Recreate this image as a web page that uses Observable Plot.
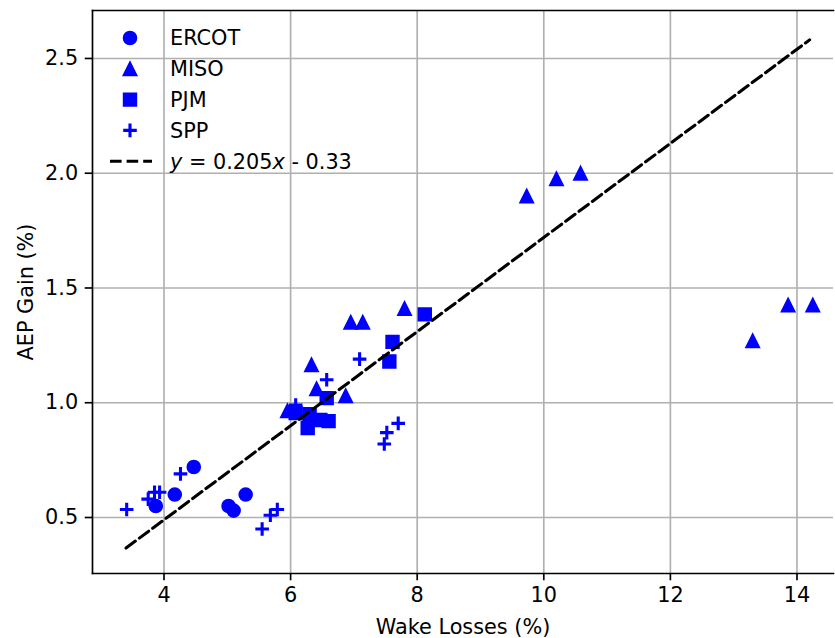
<!DOCTYPE html>
<html><head><meta charset="utf-8">
<script src="https://cdn.jsdelivr.net/npm/d3@7"></script>
<script src="https://cdn.jsdelivr.net/npm/@observablehq/plot@0.6"></script>
<style>
body{margin:0;background:#fff;}
#wrap{position:relative;width:835px;height:638px;}
#legend{position:absolute;left:0;top:0;pointer-events:none;}
</style></head><body><div id="wrap"></div>
<script>
// ---- data ----
const ercotWake = [3.87, 4.17, 4.47, 5.02, 5.10, 5.29];
const ercotGain = [0.55, 0.60, 0.72, 0.55, 0.53, 0.60];
const misoWake = [5.95, 6.33, 6.41, 6.87, 6.95, 7.14, 7.80, 9.73, 10.20, 10.58, 13.30, 13.86, 14.25];
const misoGain = [0.965, 1.165, 1.06, 1.03, 1.35, 1.35, 1.41, 1.90, 1.975, 2.00, 1.27, 1.425, 1.425];
const pjmWake = [6.08, 6.27, 6.30, 6.47, 6.60, 6.57, 7.56, 7.61, 8.12];
const pjmGain = [0.955, 0.89, 0.95, 0.925, 0.92, 1.02, 1.18, 1.265, 1.385];
const sppWake = [3.41, 3.75, 3.85, 3.93, 4.26, 5.55, 5.68, 5.79, 6.08, 6.57, 7.09, 7.48, 7.52, 7.70];
const sppGain = [0.535, 0.58, 0.61, 0.61, 0.69, 0.45, 0.51, 0.535, 0.99, 1.10, 1.19, 0.82, 0.87, 0.91];
const fitSlope = 0.205, fitIntercept = -0.33;
const fitRange = [3.4, 14.2];
const xTicks = [4, 6, 8, 10, 12, 14];
const yTicks = [0.5, 1.0, 1.5, 2.0, 2.5];
const seriesNames = ["ERCOT", "MISO", "PJM", "SPP"];
const xLabel = "Wake Losses (%)", yLabel = "AEP Gain (%)";

const rows = (xs, ys) => xs.map((x, i) => ({x, y: ys[i]}));
const ercot = rows(ercotWake, ercotGain);
const miso = rows(misoWake, misoGain);
const pjm = rows(pjmWake, pjmGain);
const spp = rows(sppWake, sppGain);
const fit = fitRange.map(x => ({x, y: fitSlope * x + fitIntercept}));

// matplotlib-like marker shapes
const R = s => Math.sqrt(s / Math.PI);
const symSquare = {draw(c, s){const r = R(s); c.rect(-r, -r, 2*r, 2*r);}};
const symTri = {draw(c, s){const r = R(s); c.moveTo(0, -r); c.lineTo(-r, r); c.lineTo(r, r); c.closePath();}};
const symPlus = {draw(c, s){const r = R(s); c.moveTo(-r, 0); c.lineTo(r, 0); c.moveTo(0, -r); c.lineTo(0, r);}};

const blue = "#0000ff";
const FS = 20.8;

const chart = Plot.plot({
  width: 835, height: 638,
  marginLeft: 92, marginRight: 2, marginTop: 10, marginBottom: 65,
  style: {fontFamily: "DejaVu Sans, sans-serif", fontSize: FS + "px", color: "#000", background: "#fff"},
  x: {domain: [2.870, 14.577]},
  y: {domain: [0.256, 2.709]},
  marks: [
    Plot.gridX(xTicks, {stroke: "#b0b0b0", strokeOpacity: 1, strokeWidth: 1.67}),
    Plot.gridY(yTicks, {stroke: "#b0b0b0", strokeOpacity: 1, strokeWidth: 1.67}),
    Plot.axisX({ticks: xTicks, tickSize: 7.3, tickPadding: 6, strokeWidth: 1.67, tickFormat: d => String(d),
      label: xLabel, labelAnchor: "center", labelArrow: "none", labelOffset: 60}),
    Plot.axisY({ticks: yTicks, tickSize: 7.3, tickPadding: 7, strokeWidth: 1.67, tickFormat: d3.format(".1f"),
      label: yLabel, labelAnchor: "center", labelArrow: "none", labelOffset: 74}),
    Plot.frame({anchor: "top", stroke: "#000", strokeWidth: 1.67}),
    Plot.frame({anchor: "left", stroke: "#000", strokeWidth: 1.67}),
    Plot.frame({anchor: "bottom", stroke: "#000", strokeWidth: 1.67}),
    Plot.dot(ercot, {x: "x", y: "y", r: 6.3, fill: blue, stroke: blue, strokeWidth: 2}),
    Plot.dot(miso, {x: "x", y: "y", r: 6.4, symbol: symTri, fill: blue, stroke: blue, strokeWidth: 2}),
    Plot.dot(pjm, {x: "x", y: "y", r: 6.2, symbol: symSquare, fill: blue, stroke: blue, strokeWidth: 2}),
    Plot.dot(spp, {x: "x", y: "y", r: 6.8, symbol: symPlus, fill: "none", stroke: blue, strokeWidth: 3.1}),
    Plot.line(fit, {x: "x", y: "y", stroke: "#000", strokeWidth: 3.1, strokeDasharray: "11.6,5"})
  ]
});
const wrap = document.getElementById("wrap");
wrap.appendChild(chart);

// legend overlay (upper left, no frame, like matplotlib frameon=False)
const leg = d3.select(wrap).append("svg").attr("id", "legend").attr("width", 835).attr("height", 200)
  .style("font-family", "DejaVu Sans, sans-serif").style("font-size", FS + "px");
const symbols = [d3.symbolCircle, symTri, symSquare, symPlus];
const legR = [6.3, 6.4, 6.2, 6.8];
const rowY = i => 38 + i * 30.8;
seriesNames.forEach((name, i) => {
  const g = leg.append("g").attr("transform", `translate(130,${rowY(i)})`);
  const p = d3.symbol().type(symbols[i]).size(legR[i] * legR[i] * Math.PI)();
  g.append("path").attr("d", p)
    .attr("fill", i === 3 ? "none" : blue).attr("stroke", blue).attr("stroke-width", i === 3 ? 3.1 : 2);
  leg.append("text").attr("x", 170).attr("y", rowY(i)).attr("dy", "0.36em").text(name);
});
const ly = rowY(4);
leg.append("line").attr("x1", 110).attr("x2", 152).attr("y1", ly).attr("y2", ly)
  .attr("stroke", "#000").attr("stroke-width", 3.1).attr("stroke-dasharray", "11.6,5");
const ft = leg.append("text").attr("x", 170).attr("y", ly).attr("dy", "0.36em");
ft.append("tspan").attr("font-style", "italic").text("y");
ft.append("tspan").text(` = ${fitSlope}`);
ft.append("tspan").attr("font-style", "italic").text("x");
ft.append("tspan").text(` - ${Math.abs(fitIntercept)}`);
</script></body></html>
